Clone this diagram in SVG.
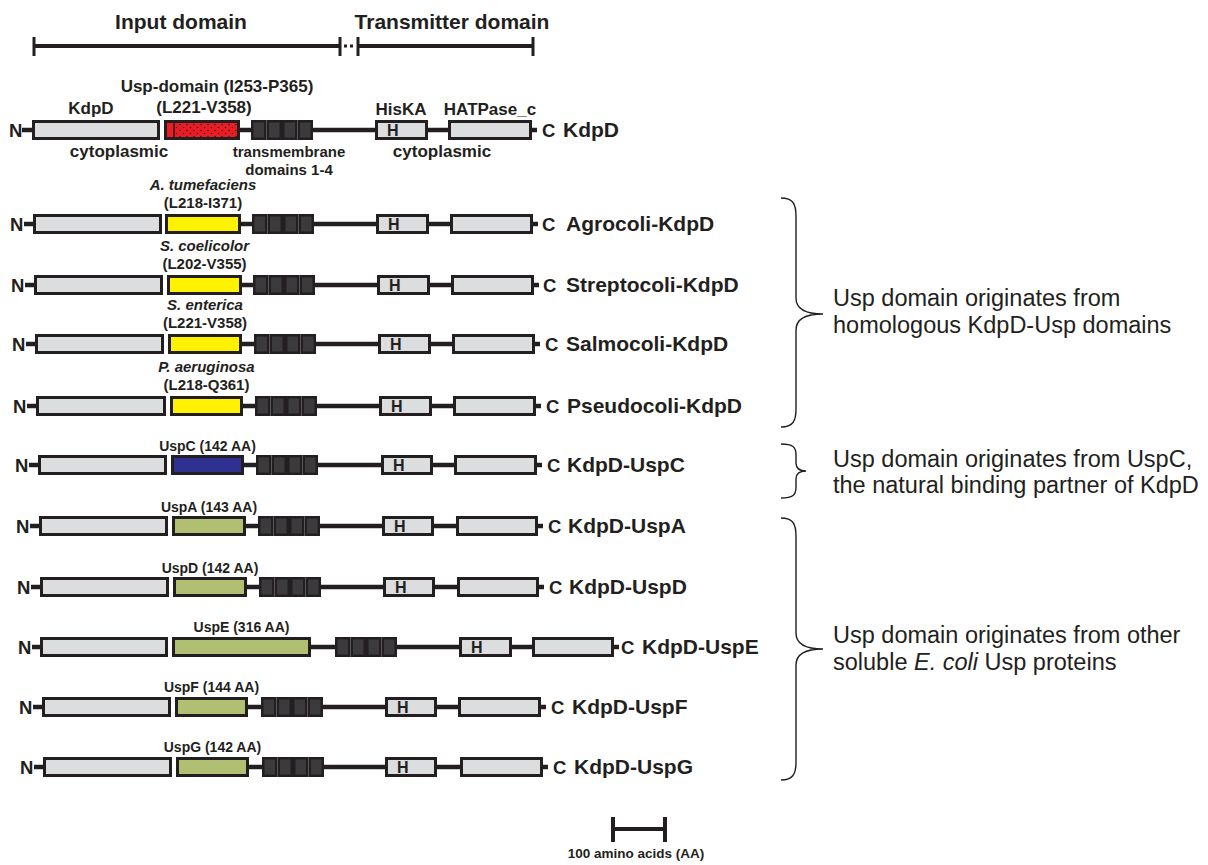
<svg xmlns="http://www.w3.org/2000/svg" xmlns:xlink="http://www.w3.org/1999/xlink" width="1208" height="865" viewBox="0 0 1208 865">
<style>
.bg{fill:#ffffff}
.box{fill:#dcdddf;stroke:#231f20;stroke-width:3}
.yel{fill:#fff200;stroke:#231f20;stroke-width:3}
.blu{fill:#2e3192;stroke:#231f20;stroke-width:3}
.grn{fill:#b0bf72;stroke:#231f20;stroke-width:3}
.red{fill:#ed1c24;stroke:#231f20;stroke-width:3}
.tmr{fill:#3b3b3d;stroke:#231f20;stroke-width:2.5}
.bb{stroke:#231f20;stroke-width:4.5;fill:none}
.ln{stroke:#231f20;stroke-width:4;fill:none}
.tk{stroke:#231f20;stroke-width:3;fill:none}
.br{stroke:#231f20;stroke-width:1.4;fill:none}
text{font-family:"Liberation Sans",Arial,sans-serif;fill:#231f20}
.nc{font-weight:bold;font-size:18.5px}
.lab{font-weight:bold;font-size:21px}
.hd{font-weight:bold;font-size:21px}
.an{font-weight:bold;font-size:17px}
.sm{font-weight:bold;font-size:15px}
.sp{font-weight:bold;font-size:15px}
.spi{font-weight:bold;font-style:italic;font-size:15px}
.us{font-weight:bold;font-size:14px}
.h{font-weight:bold;font-size:16px}
.rt{font-size:23.5px}
.sc{font-weight:bold;font-size:13.5px}
</style>
<defs>
<pattern id="dots" width="7" height="6" patternUnits="userSpaceOnUse">
<circle cx="1.5" cy="1.5" r="0.8" fill="#231f20"/>
<circle cx="5" cy="4.5" r="0.8" fill="#231f20"/>
</pattern>
<g id="tm">
<rect class="tmr" x="1.25" y="-8.75" width="13" height="17.5"/>
<rect class="tmr" x="16.75" y="-8.75" width="13" height="17.5"/>
<rect class="tmr" x="32.25" y="-8.75" width="13" height="17.5"/>
<rect class="tmr" x="47.75" y="-8.75" width="13" height="17.5"/>
</g>
</defs>
<rect class="bg" x="0" y="0" width="1208" height="865"/>

<g id="header">
<text class="hd" x="181" y="29" text-anchor="middle">Input domain</text>
<text class="hd" x="452" y="29" text-anchor="middle">Transmitter domain</text>
<line class="ln" x1="34" y1="46" x2="340" y2="46"/>
<line class="tk" x1="34" y1="37" x2="34" y2="56"/>
<line class="tk" x1="340" y1="37" x2="340" y2="56"/>
<rect x="344" y="44.5" width="3" height="3" fill="#231f20"/>
<rect x="350" y="44.5" width="3" height="3" fill="#231f20"/>
<line class="ln" x1="358" y1="46" x2="533" y2="46"/>
<line class="tk" x1="358" y1="37" x2="358" y2="56"/>
<line class="tk" x1="533" y1="37" x2="533" y2="56"/>
</g>

<g id="connectors">
<line class="bb" x1="22" y1="130" x2="33" y2="130"/>
<line class="bb" x1="240" y1="130" x2="252" y2="130"/>
<line class="bb" x1="312" y1="130" x2="376" y2="130"/>
<line class="bb" x1="427" y1="130" x2="449" y2="130"/>
<line class="bb" x1="531" y1="130" x2="537" y2="130"/>
<line class="bb" x1="24" y1="224" x2="34" y2="224"/>
<line class="bb" x1="241" y1="224" x2="253" y2="224"/>
<line class="bb" x1="313" y1="224" x2="377" y2="224"/>
<line class="bb" x1="428" y1="224" x2="451" y2="224"/>
<line class="bb" x1="532" y1="224" x2="538" y2="224"/>
<line class="bb" x1="25" y1="285" x2="35" y2="285"/>
<line class="bb" x1="242" y1="285" x2="254" y2="285"/>
<line class="bb" x1="314" y1="285" x2="378" y2="285"/>
<line class="bb" x1="429" y1="285" x2="452" y2="285"/>
<line class="bb" x1="533" y1="285" x2="539" y2="285"/>
<line class="bb" x1="26" y1="344" x2="36" y2="344"/>
<line class="bb" x1="242" y1="344" x2="255" y2="344"/>
<line class="bb" x1="315" y1="344" x2="379" y2="344"/>
<line class="bb" x1="430" y1="344" x2="453" y2="344"/>
<line class="bb" x1="534" y1="344" x2="540" y2="344"/>
<line class="bb" x1="27" y1="406" x2="37" y2="406"/>
<line class="bb" x1="243" y1="406" x2="256" y2="406"/>
<line class="bb" x1="316" y1="406" x2="380" y2="406"/>
<line class="bb" x1="431" y1="406" x2="454" y2="406"/>
<line class="bb" x1="535" y1="406" x2="541" y2="406"/>
<line class="bb" x1="29" y1="465" x2="39" y2="465"/>
<line class="bb" x1="244" y1="465" x2="257" y2="465"/>
<line class="bb" x1="317" y1="465" x2="382" y2="465"/>
<line class="bb" x1="432" y1="465" x2="455" y2="465"/>
<line class="bb" x1="536" y1="465" x2="542" y2="465"/>
<line class="bb" x1="30" y1="526" x2="40" y2="526"/>
<line class="bb" x1="246" y1="526" x2="259" y2="526"/>
<line class="bb" x1="319" y1="526" x2="383" y2="526"/>
<line class="bb" x1="433" y1="526" x2="457" y2="526"/>
<line class="bb" x1="537" y1="526" x2="543" y2="526"/>
<line class="bb" x1="31" y1="587" x2="41" y2="587"/>
<line class="bb" x1="247" y1="587" x2="260" y2="587"/>
<line class="bb" x1="320" y1="587" x2="384" y2="587"/>
<line class="bb" x1="434" y1="587" x2="458" y2="587"/>
<line class="bb" x1="538" y1="587" x2="544" y2="587"/>
<line class="bb" x1="32" y1="647" x2="41" y2="647"/>
<line class="bb" x1="311" y1="647" x2="336" y2="647"/>
<line class="bb" x1="396" y1="647" x2="460" y2="647"/>
<line class="bb" x1="511" y1="647" x2="533" y2="647"/>
<line class="bb" x1="613" y1="647" x2="619" y2="647"/>
<line class="bb" x1="33" y1="707" x2="43" y2="707"/>
<line class="bb" x1="248" y1="707" x2="262" y2="707"/>
<line class="bb" x1="322" y1="707" x2="386" y2="707"/>
<line class="bb" x1="436" y1="707" x2="459" y2="707"/>
<line class="bb" x1="540" y1="707" x2="546" y2="707"/>
<line class="bb" x1="34" y1="767" x2="44" y2="767"/>
<line class="bb" x1="249" y1="767" x2="263" y2="767"/>
<line class="bb" x1="323" y1="767" x2="386" y2="767"/>
<line class="bb" x1="436" y1="767" x2="461" y2="767"/>
<line class="bb" x1="542" y1="767" x2="548" y2="767"/>
</g>

<g id="row-kdpd">
<text class="nc" x="9" y="136.5">N</text>
<rect class="box" x="33.5" y="121.5" width="125" height="17"/>
<rect class="red" x="165.5" y="121.5" width="73" height="17"/>
<rect x="175" y="123" width="62" height="14" fill="url(#dots)"/>
<line x1="174" y1="122" x2="174" y2="138" stroke="#231f20" stroke-width="1.5"/>
<use xlink:href="#tm" href="#tm" x="251" y="130"/>
<rect class="box" x="376.5" y="121.5" width="50" height="17"/>
<text class="h" x="387" y="136">H</text>
<rect class="box" x="449.5" y="121.5" width="81" height="17"/>
<text class="nc" x="542" y="136.5">C</text>
<text class="lab" x="563" y="137">KdpD</text>
<text class="an" x="91" y="114" text-anchor="middle">KdpD</text>
<text class="an" x="217" y="92" text-anchor="middle">Usp-domain (I253-P365)</text>
<text class="an" x="204" y="113" text-anchor="middle">(L221-V358)</text>
<text class="an" x="401" y="115" text-anchor="middle">HisKA</text>
<text class="an" x="490" y="115" text-anchor="middle">HATPase_c</text>
<text class="an" x="119" y="157" text-anchor="middle">cytoplasmic</text>
<text class="sm" x="289" y="157" text-anchor="middle">transmembrane</text>
<text class="sm" x="289" y="175" text-anchor="middle">domains 1-4</text>
<text class="an" x="442" y="157" text-anchor="middle">cytoplasmic</text>
</g>

<g id="row-agrocoli">
<text class="nc" x="10" y="230.5">N</text>
<rect class="box" x="34.5" y="215.5" width="126" height="17"/>
<rect class="yel" x="166.5" y="215.5" width="73" height="17"/>
<use xlink:href="#tm" href="#tm" x="252" y="224"/>
<rect class="box" x="377.5" y="215.5" width="50" height="17"/>
<text class="h" x="388" y="230">H</text>
<rect class="box" x="451.5" y="215.5" width="80" height="17"/>
<text class="nc" x="542" y="230.5">C</text>
<text class="lab" x="566" y="231">Agrocoli-KdpD</text>
<text class="spi" x="203" y="190" text-anchor="middle">A. tumefaciens</text>
<text class="sp" x="203" y="208" text-anchor="middle">(L218-I371)</text>
</g>

<g id="row-streptocoli">
<text class="nc" x="11" y="291.5">N</text>
<rect class="box" x="35.5" y="276.5" width="126" height="17"/>
<rect class="yel" x="168.5" y="276.5" width="72" height="17"/>
<use xlink:href="#tm" href="#tm" x="253" y="285"/>
<rect class="box" x="378.5" y="276.5" width="50" height="17"/>
<text class="h" x="389" y="291">H</text>
<rect class="box" x="452.5" y="276.5" width="80" height="17"/>
<text class="nc" x="543" y="291.5">C</text>
<text class="lab" x="566" y="292">Streptocoli-KdpD</text>
<text class="spi" x="204.5" y="251" text-anchor="middle">S. coelicolor</text>
<text class="sp" x="204.5" y="269" text-anchor="middle">(L202-V355)</text>
</g>

<g id="row-salmocoli">
<text class="nc" x="12" y="350.5">N</text>
<rect class="box" x="36.5" y="335.5" width="126" height="17"/>
<rect class="yel" x="169.5" y="335.5" width="71" height="17"/>
<use xlink:href="#tm" href="#tm" x="254" y="344"/>
<rect class="box" x="379.5" y="335.5" width="50" height="17"/>
<text class="h" x="390" y="350">H</text>
<rect class="box" x="453.5" y="335.5" width="80" height="17"/>
<text class="nc" x="545" y="350.5">C</text>
<text class="lab" x="566" y="351">Salmocoli-KdpD</text>
<text class="spi" x="205" y="310" text-anchor="middle">S. enterica</text>
<text class="sp" x="205" y="328" text-anchor="middle">(L221-V358)</text>
</g>

<g id="row-pseudocoli">
<text class="nc" x="13" y="412.5">N</text>
<rect class="box" x="37.5" y="397.5" width="127" height="17"/>
<rect class="yel" x="171.5" y="397.5" width="70" height="17"/>
<use xlink:href="#tm" href="#tm" x="255" y="406"/>
<rect class="box" x="380.5" y="397.5" width="50" height="17"/>
<text class="h" x="391" y="412">H</text>
<rect class="box" x="454.5" y="397.5" width="80" height="17"/>
<text class="nc" x="546" y="412.5">C</text>
<text class="lab" x="567" y="413">Pseudocoli-KdpD</text>
<text class="spi" x="206.5" y="372" text-anchor="middle">P. aeruginosa</text>
<text class="sp" x="206.5" y="390" text-anchor="middle">(L218-Q361)</text>
</g>

<g id="row-uspc">
<text class="nc" x="15" y="471.5">N</text>
<rect class="box" x="39.5" y="456.5" width="126" height="17"/>
<rect class="blu" x="172.5" y="456.5" width="70" height="17"/>
<use xlink:href="#tm" href="#tm" x="256" y="465"/>
<rect class="box" x="382.5" y="456.5" width="49" height="17"/>
<text class="h" x="393" y="471">H</text>
<rect class="box" x="455.5" y="456.5" width="80" height="17"/>
<text class="nc" x="547" y="471.5">C</text>
<text class="lab" x="567" y="472">KdpD-UspC</text>
<text class="us" x="207.5" y="451" text-anchor="middle">UspC (142 AA)</text>
</g>

<g id="row-uspa">
<text class="nc" x="16" y="532.5">N</text>
<rect class="box" x="40.5" y="517.5" width="126" height="17"/>
<rect class="grn" x="173.5" y="517.5" width="71" height="17"/>
<use xlink:href="#tm" href="#tm" x="258" y="526"/>
<rect class="box" x="383.5" y="517.5" width="49" height="17"/>
<text class="h" x="394" y="532">H</text>
<rect class="box" x="457.5" y="517.5" width="79" height="17"/>
<text class="nc" x="548" y="532.5">C</text>
<text class="lab" x="568" y="533">KdpD-UspA</text>
<text class="us" x="209" y="512" text-anchor="middle">UspA (143 AA)</text>
</g>

<g id="row-uspd">
<text class="nc" x="17" y="593.5">N</text>
<rect class="box" x="41.5" y="578.5" width="126" height="17"/>
<rect class="grn" x="174.5" y="578.5" width="71" height="17"/>
<use xlink:href="#tm" href="#tm" x="259" y="587"/>
<rect class="box" x="384.5" y="578.5" width="49" height="17"/>
<text class="h" x="395" y="593">H</text>
<rect class="box" x="458.5" y="578.5" width="79" height="17"/>
<text class="nc" x="549" y="593.5">C</text>
<text class="lab" x="569" y="594">KdpD-UspD</text>
<text class="us" x="210" y="573" text-anchor="middle">UspD (142 AA)</text>
</g>

<g id="row-uspe">
<text class="nc" x="18" y="653.5">N</text>
<rect class="box" x="41.5" y="638.5" width="125" height="17"/>
<rect class="grn" x="173.5" y="638.5" width="136" height="17"/>
<use xlink:href="#tm" href="#tm" x="335" y="647"/>
<rect class="box" x="460.5" y="638.5" width="50" height="17"/>
<text class="h" x="471" y="653">H</text>
<rect class="box" x="533.5" y="638.5" width="79" height="17"/>
<text class="nc" x="621" y="653.5">C</text>
<text class="lab" x="642" y="654">KdpD-UspE</text>
<text class="us" x="241.5" y="632" text-anchor="middle">UspE (316 AA)</text>
</g>

<g id="row-uspf">
<text class="nc" x="19" y="713.5">N</text>
<rect class="box" x="43.5" y="698.5" width="126" height="17"/>
<rect class="grn" x="176.5" y="698.5" width="70" height="17"/>
<use xlink:href="#tm" href="#tm" x="261" y="707"/>
<rect class="box" x="386.5" y="698.5" width="49" height="17"/>
<text class="h" x="397" y="713">H</text>
<rect class="box" x="459.5" y="698.5" width="80" height="17"/>
<text class="nc" x="551" y="713.5">C</text>
<text class="lab" x="572" y="714">KdpD-UspF</text>
<text class="us" x="211.5" y="692" text-anchor="middle">UspF (144 AA)</text>
</g>

<g id="row-uspg">
<text class="nc" x="20" y="773.5">N</text>
<rect class="box" x="44.5" y="758.5" width="126" height="17"/>
<rect class="grn" x="177.5" y="758.5" width="70" height="17"/>
<use xlink:href="#tm" href="#tm" x="262" y="767"/>
<rect class="box" x="386.5" y="758.5" width="49" height="17"/>
<text class="h" x="397" y="773">H</text>
<rect class="box" x="461.5" y="758.5" width="80" height="17"/>
<text class="nc" x="553" y="773.5">C</text>
<text class="lab" x="574" y="774">KdpD-UspG</text>
<text class="us" x="212.5" y="752" text-anchor="middle">UspG (142 AA)</text>
</g>

<g id="brace-homologous">
<path class="br" d="M781,198 C793,198 796,204 796,216 L796,298 C796,308 803,314 823,314 C803,314 796,320 796,330 L796,409 C796,421 793,427 781,427"/>
<text class="rt" x="833" y="306">Usp domain originates from</text>
<text class="rt" x="833" y="333">homologous KdpD-Usp domains</text>
</g>

<g id="brace-uspc">
<path class="br" d="M781,444 C793,444 796,447 796,455 L796,463 C796,468 799,471 806,471 C799,471 796,474 796,479 L796,487 C796,495 793,498 781,498"/>
<text class="rt" x="833" y="467">Usp domain originates from UspC,</text>
<text class="rt" x="833" y="493">the natural binding partner of KdpD</text>
</g>

<g id="brace-other">
<path class="br" d="M781,518 C793,518 796,524 796,536 L796,633 C796,643 803,649 823,649 C803,649 796,655 796,665 L796,762 C796,774 793,780 781,780"/>
<text class="rt" x="833" y="643">Usp domain originates from other</text>
<text class="rt" x="833" y="670">soluble <tspan font-style="italic">E. coli</tspan> Usp proteins</text>
</g>

<g id="scalebar">
<line class="ln" x1="613" y1="829" x2="665" y2="829"/>
<line class="ln" x1="613" y1="817" x2="613" y2="842"/>
<line class="ln" x1="665" y1="817" x2="665" y2="842"/>
<text class="sc" x="636" y="858" text-anchor="middle">100 amino acids (AA)</text>
</g>
</svg>
